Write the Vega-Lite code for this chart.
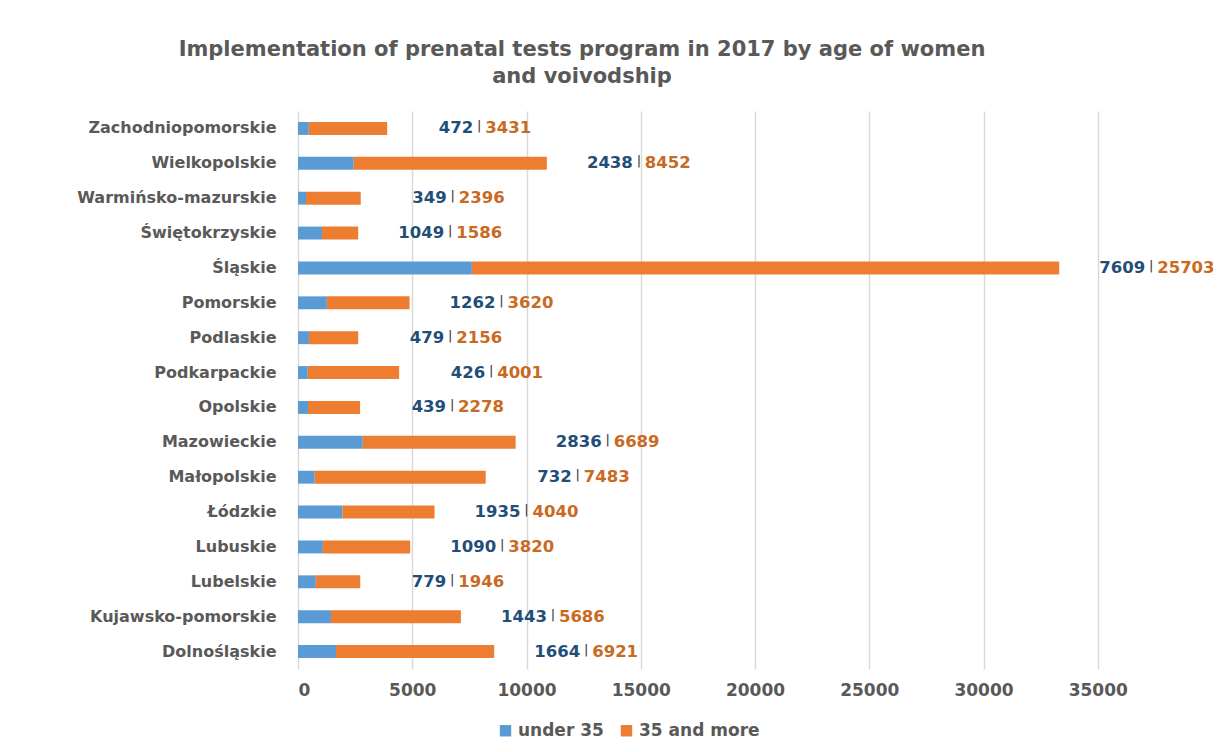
{
  "$schema": "https://vega.github.io/schema/vega-lite/v6.json",
  "width": 914,
  "height": 558,
  "autosize": {"type": "none"},
  "padding": {"left": 298, "top": 111, "right": 20, "bottom": 83},
  "background": "white",
  "config": {"view": {"stroke": null}, "font": "DejaVu Sans"},
  "title": {
    "text": ["Implementation of prenatal tests program in 2017 by age of women", "and voivodship"],
    "font": "DejaVu Sans",
    "fontSize": 21,
    "fontWeight": "bold",
    "color": "#595959",
    "lineHeight": 27,
    "anchor": "middle",
    "dx": -173,
    "offset": 24
  },
  "data": {
    "values": [
      {"region": "Zachodniopomorskie", "group": "under 35", "value": 472},
      {"region": "Zachodniopomorskie", "group": "35 and more", "value": 3431},
      {"region": "Wielkopolskie", "group": "under 35", "value": 2438},
      {"region": "Wielkopolskie", "group": "35 and more", "value": 8452},
      {"region": "Warmińsko-mazurskie", "group": "under 35", "value": 349},
      {"region": "Warmińsko-mazurskie", "group": "35 and more", "value": 2396},
      {"region": "Świętokrzyskie", "group": "under 35", "value": 1049},
      {"region": "Świętokrzyskie", "group": "35 and more", "value": 1586},
      {"region": "Śląskie", "group": "under 35", "value": 7609},
      {"region": "Śląskie", "group": "35 and more", "value": 25703},
      {"region": "Pomorskie", "group": "under 35", "value": 1262},
      {"region": "Pomorskie", "group": "35 and more", "value": 3620},
      {"region": "Podlaskie", "group": "under 35", "value": 479},
      {"region": "Podlaskie", "group": "35 and more", "value": 2156},
      {"region": "Podkarpackie", "group": "under 35", "value": 426},
      {"region": "Podkarpackie", "group": "35 and more", "value": 4001},
      {"region": "Opolskie", "group": "under 35", "value": 439},
      {"region": "Opolskie", "group": "35 and more", "value": 2278},
      {"region": "Mazowieckie", "group": "under 35", "value": 2836},
      {"region": "Mazowieckie", "group": "35 and more", "value": 6689},
      {"region": "Małopolskie", "group": "under 35", "value": 732},
      {"region": "Małopolskie", "group": "35 and more", "value": 7483},
      {"region": "Łódzkie", "group": "under 35", "value": 1935},
      {"region": "Łódzkie", "group": "35 and more", "value": 4040},
      {"region": "Lubuskie", "group": "under 35", "value": 1090},
      {"region": "Lubuskie", "group": "35 and more", "value": 3820},
      {"region": "Lubelskie", "group": "under 35", "value": 779},
      {"region": "Lubelskie", "group": "35 and more", "value": 1946},
      {"region": "Kujawsko-pomorskie", "group": "under 35", "value": 1443},
      {"region": "Kujawsko-pomorskie", "group": "35 and more", "value": 5686},
      {"region": "Dolnośląskie", "group": "under 35", "value": 1664},
      {"region": "Dolnośląskie", "group": "35 and more", "value": 6921}
    ]
  },
  "encoding": {
    "y": {
      "field": "region",
      "type": "nominal",
      "sort": ["Zachodniopomorskie", "Wielkopolskie", "Warmińsko-mazurskie", "Świętokrzyskie", "Śląskie", "Pomorskie", "Podlaskie", "Podkarpackie", "Opolskie", "Mazowieckie", "Małopolskie", "Łódzkie", "Lubuskie", "Lubelskie", "Kujawsko-pomorskie", "Dolnośląskie"],
      "scale": {"paddingInner": 0.63, "paddingOuter": 0.315},
      "axis": {
        "title": null,
        "domain": false,
        "ticks": false,
        "grid": false,
        "labelFont": "DejaVu Sans",
        "labelFontSize": 16,
        "labelFontWeight": "bold",
        "labelColor": "#595959",
        "labelPadding": 22,
        "labelLimit": 300
      }
    }
  },
  "layer": [
    {
      "mark": {"type": "bar"},
      "encoding": {
        "x": {
          "field": "value",
          "type": "quantitative",
          "stack": "zero",
          "scale": {"domain": [0, 40000], "nice": false},
          "axis": {
            "title": null,
            "values": [0, 5000, 10000, 15000, 20000, 25000, 30000, 35000],
            "format": "d",
            "grid": true,
            "gridColor": "#D9D9D9",
            "gridWidth": 1.5,
            "domain": false,
            "ticks": false,
            "labelFont": "DejaVu Sans",
            "labelFontSize": 17,
            "labelFontWeight": "bold",
            "labelColor": "#595959",
            "labelPadding": 13
          }
        },
        "order": {"field": "group", "sort": "descending"},
        "color": {
          "field": "group",
          "type": "nominal",
          "sort": ["under 35", "35 and more"],
          "scale": {"domain": ["under 35", "35 and more"], "range": ["#5B9BD5", "#ED7D31"]},
          "legend": {
            "title": null,
            "orient": "none",
            "direction": "horizontal",
            "legendX": 199,
            "legendY": 611,
            "symbolType": "square",
            "symbolSize": 130,
            "symbolStrokeWidth": 0,
            "labelFont": "DejaVu Sans",
            "labelFontSize": 17,
            "labelFontWeight": "bold",
            "labelColor": "#595959",
            "columnPadding": 14
          }
        }
      }
    },
    {
      "transform": [
        {"joinaggregate": [{"op": "sum", "field": "value", "as": "total"}], "groupby": ["region"]},
        {"filter": "datum.group === 'under 35'"}
      ],
      "mark": {"type": "text", "align": "right", "baseline": "middle", "dx": 86, "font": "DejaVu Sans", "fontSize": 16.5, "fontWeight": "bold", "color": "#1F4E79"},
      "encoding": {
        "x": {"field": "total", "type": "quantitative"},
        "text": {"field": "value", "type": "quantitative", "format": "d"}
      }
    },
    {
      "transform": [
        {"joinaggregate": [{"op": "sum", "field": "value", "as": "total"}], "groupby": ["region"]},
        {"filter": "datum.group === '35 and more'"}
      ],
      "mark": {"type": "text", "align": "left", "baseline": "middle", "dx": 98, "font": "DejaVu Sans", "fontSize": 16.5, "fontWeight": "bold", "color": "#C96A22"},
      "encoding": {
        "x": {"field": "total", "type": "quantitative"},
        "text": {"field": "value", "type": "quantitative", "format": "d"}
      }
    },
    {
      "transform": [
        {"joinaggregate": [{"op": "sum", "field": "value", "as": "total"}], "groupby": ["region"]},
        {"filter": "datum.group === 'under 35'"}
      ],
      "mark": {"type": "text", "align": "center", "baseline": "middle", "dx": 92, "dy": -2, "text": "|", "font": "DejaVu Sans", "fontSize": 13, "color": "#333333"},
      "encoding": {
        "x": {"field": "total", "type": "quantitative"}
      }
    }
  ]
}
